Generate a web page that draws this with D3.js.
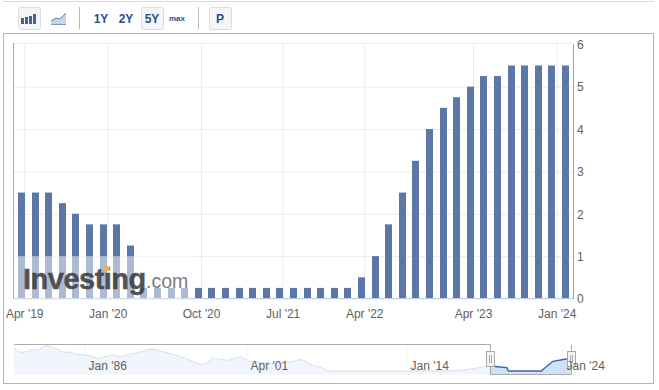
<!DOCTYPE html>
<html>
<head>
<meta charset="utf-8">
<script src="https://cdn.jsdelivr.net/npm/d3@7"></script>
<style>
  body { margin: 0; background: #fff; }
  text { font-family: "Liberation Sans", Arial, sans-serif; }
  .domain { shape-rendering: crispEdges; }
</style>
</head>
<body>
<svg width="659" height="390"></svg>
<script>
// one bar per rate decision
const rates = [
  2.5, 2.5, 2.5, 2.25, 2, 1.75, 1.75, 1.75, 1.25,
  0.25, 0.25, 0.25, 0.25, 0.25, 0.25, 0.25, 0.25, 0.25, 0.25, 0.25, 0.25, 0.25, 0.25, 0.25, 0.25,
  0.5, 1, 1.75, 2.5, 3.25, 4, 4.5, 4.75, 5, 5.25, 5.25, 5.5, 5.5, 5.5, 5.5, 5.5
];
// x labels sit between bars (the axis is ordinal in the original)
const xTickIndex  = [0.2, 6.34, 13.2, 19.2, 25.2, 33.2, 39.35];
const xTickLabels = ["Apr '19", "Jan '20", "Oct '20", "Jul '21", "Apr '22", "Apr '23", "Jan '24"];
const yTicks = [0, 1, 2, 3, 4, 5, 6];
const yMax = 6.03; // the plot runs a hair above the 6 tick

// navigator series, estimated
const navYears = [
  1979.3, 1980, 1981.1, 1981.6, 1982.1, 1982.5, 1983.2, 1984, 1984.6, 1985.1, 1985.7,
  1986.5, 1987.3, 1988, 1988.7, 1989.3, 1990.1, 1990.9, 1992.3, 1993.7, 1995.3, 1996.9,
  1997.3, 1998.1, 1998.6, 1999.4, 2000.6, 2001.5, 2002.55, 2003.35, 2004.4, 2005.6,
  2006.7, 2007.2, 2007.6, 2016.4, 2017.4, 2018.4, 2019.3, 2019.8, 2020.4, 2020.5,
  2022.6, 2022.95, 2023.35, 2024.2, 2024.5
];
const navRates = [
  10.15, 8.26, 9.42, 9.42, 11.02, 11.31, 10.15, 8.26, 8.55, 7.53, 7.53,
  6.8, 5.78, 6.65, 7.24, 6.51, 7.53, 8.11, 10, 8.26, 6.07, 3.01,
  3.45, 5.93, 5.49, 4.91, 6.51, 4.32, 4.03, 3.45, 3.89, 5.34,
  2.14, 2, 0.25, 0.25, 0.5, 1.5, 2.5, 2.14, 1.75, 0.25,
  0.25, 2.25, 4.5, 5.5, 5.5
];
const navTickYears  = [1986, 2001.25, 2014, 2024];
const navTickLabels = ["Jan '86", "Apr '01", "Jan '14", "Jan '24"];
const selection = [2019.3, 2024.5];

const rangeButtons = [
  {label: "1Y", cx: 101, size: 12},
  {label: "2Y", cx: 126, size: 12},
  {label: "5Y", cx: 152, size: 12},
  {label: "max", cx: 177, size: 8}
];

const svg = d3.select("svg");
const BAR_COLOR  = "#5b77a5";
const GRID_COLOR = "#ececec";
const FRAME      = "#b3b3b3";
const TEXT_COLOR = "#606060";
const BLUE_TEXT  = "#2b4f8c";

const plot = {left: 13.5, right: 572.5, top: 43, bottom: 298.5};
const x = d3.scaleLinear().domain([0, rates.length - 1]).range([21.5, 565.5]);
const y = d3.scaleLinear().domain([0, yMax]).range([plot.bottom, plot.top]);

// outer frame and toolbar rule
svg.append("rect")
  .attr("x", 3.5).attr("y", 33.5).attr("width", 650).attr("height", 350)
  .attr("fill", "none").attr("stroke", FRAME);
svg.append("line")
  .attr("x1", 3).attr("x2", 654).attr("y1", 1.5).attr("y2", 1.5)
  .attr("stroke", "#d8d8d8");

drawToolbar();
drawMain();
drawWatermark();
drawNavigator();

function drawToolbar() {
  let bar = svg.append("g");
  // buttons with a pressed look
  [[18.5, 22], [141.5, 22], [209.5, 22]].forEach(b => {
    bar.append("rect")
      .attr("x", b[0]).attr("y", 7.5).attr("width", b[1]).attr("height", 22).attr("rx", 2)
      .attr("fill", "#f5f5f5").attr("stroke", "#dcdcdc");
  });
  [79.5, 198.5].forEach(px => {
    bar.append("line")
      .attr("x1", px).attr("x2", px).attr("y1", 7).attr("y2", 29)
      .attr("stroke", "#b8b8b8");
  });

  // column icon
  [[21, 18, 6], [25, 17, 7], [29, 16, 8], [33, 14, 10]].forEach(b => {
    bar.append("rect")
      .attr("x", b[0]).attr("y", b[1]).attr("width", 3).attr("height", b[2])
      .attr("fill", "#3f6596");
  });
  // line icon
  bar.append("path")
    .attr("d", "M51,21 L56,18 L59,19 L62,17 L66,13 L66,24 L51,24 Z")
    .attr("fill", "#c9d3e3");
  bar.append("path")
    .attr("d", "M51,21 L56,18 L59,19 L62,17 L66,13")
    .attr("fill", "none").attr("stroke", "#5b7fb0");
  bar.append("line")
    .attr("x1", 51).attr("x2", 66).attr("y1", 24.5).attr("y2", 24.5)
    .attr("stroke", "#7f9cc4");

  bar.selectAll("text.range")
    .data(rangeButtons)
    .enter()
    .append("text")
    .attr("class", "range")
    .attr("x", d => d.cx)
    .attr("y", d => d.size == 8 ? 21 : 22.5)
    .attr("text-anchor", "middle")
    .attr("font-size", d => d.size)
    .attr("font-weight", "bold")
    .attr("fill", BLUE_TEXT)
    .text(d => d.label);

  bar.append("text")
    .attr("x", 220).attr("y", 22.5)
    .attr("text-anchor", "middle")
    .attr("font-size", 12).attr("font-weight", "bold")
    .attr("fill", BLUE_TEXT)
    .text("P");
}

function drawMain() {
  // gridlines first, the top one closes the plot
  let gridY = svg.append("g")
    .attr("transform", `translate(${plot.left},0)`)
    .call(d3.axisRight(y).tickValues(yTicks.slice(0, -1).concat(yMax)).tickSize(plot.right - plot.left).tickFormat(""));
  let gridX = svg.append("g")
    .attr("transform", `translate(0,${plot.top})`)
    .call(d3.axisBottom(x).tickValues(xTickIndex).tickSize(plot.bottom - plot.top).tickFormat(""));
  [gridY, gridX].forEach(g => {
    g.select(".domain").remove();
    g.selectAll("line").attr("stroke", GRID_COLOR);
  });

  svg.append("g").selectAll("rect")
    .data(rates)
    .enter()
    .append("rect")
    .attr("x", (d, i) => Math.round(x(i) - 3.5))
    .attr("y", d => y(d))
    .attr("width", 7)
    .attr("height", d => y(0) - y(d))
    .attr("fill", BAR_COLOR);

  // left edge of the plot
  svg.append("line")
    .attr("x1", plot.left).attr("x2", plot.left)
    .attr("y1", plot.top).attr("y2", plot.bottom)
    .attr("stroke", "#a8a8a8");

  let axisY = svg.append("g")
    .attr("transform", `translate(${plot.right},0)`)
    .call(d3.axisRight(y).tickValues(yTicks).tickSize(0).tickPadding(4.5).tickFormat(d3.format("d")));
  axisY.select(".domain").attr("stroke", "#a0a0a0");
  axisY.selectAll("text")
    .attr("font-size", 12)
    .attr("dy", "0.36em")
    .attr("fill", TEXT_COLOR)
    .style("font-family", "'Liberation Sans', Arial, sans-serif");

  let axisX = svg.append("g")
    .attr("transform", `translate(0,${plot.bottom})`)
    .call(d3.axisBottom(x).tickValues(xTickIndex).tickSize(0).tickPadding(11)
      .tickFormat((d, i) => xTickLabels[i]));
  axisX.select(".domain")
    .attr("d", `M${plot.left},0H${plot.right}`)
    .attr("stroke", "#c0cfe0");
  axisX.selectAll("text")
    .attr("font-size", 12)
    .attr("fill", TEXT_COLOR)
    .style("font-family", "'Liberation Sans', Arial, sans-serif");
}

function drawWatermark() {
  let mark = svg.append("g");
  // the logo sits on a half white band that washes out the bars
  mark.append("rect")
    .attr("x", 14).attr("y", y(1)).attr("width", 176).attr("height", y(0) - y(1))
    .attr("fill", "#fff").attr("opacity", 0.5);
  mark.append("text")
    .attr("x", 23).attr("y", 289)
    .attr("font-size", 29).attr("font-weight", "bold")
    .attr("letter-spacing", -0.5)
    .attr("fill", "#3c3c3c").attr("stroke", "#3c3c3c").attr("stroke-width", 0.4)
    .attr("opacity", 0.88)
    .text("Investing");
  mark.append("text")
    .attr("x", 146).attr("y", 288)
    .attr("font-size", 19.5)
    .attr("fill", "#6e6e6e").attr("opacity", 0.9)
    .text(".com");
  mark.append("rect")
    .attr("x", 104.5).attr("y", 266.5).attr("width", 5).attr("height", 4.5)
    .attr("fill", "#f0b050");
}

function drawNavigator() {
  let nav = svg.append("g");
  const top = 344.5, base = 374.5;

  // the original navigator is ordinal too, so years are not evenly spaced
  let nx = d3.scaleLinear().domain(navTickYears).range([85, 247, 407, 563]);
  let ny = d3.scaleLinear().domain([0, 10]).range([371.6, 348.7]);

  let points = navYears.map((d, i) => ({year: d, rate: navRates[i]}));
  let outside = points.filter(d => d.year <= selection[0]);
  let inside  = points.filter(d => d.year >= selection[0]);

  let line = d3.line().x(d => nx(d.year)).y(d => ny(d.rate));
  let area = d3.area().x(d => nx(d.year)).y0(base).y1(d => ny(d.rate));

  // faint gridlines
  nav.selectAll("line.navgrid")
    .data(navTickYears)
    .enter()
    .append("line")
    .attr("class", "navgrid")
    .attr("x1", d => nx(d)).attr("x2", d => nx(d))
    .attr("y1", top).attr("y2", base)
    .attr("stroke", "#f4f4f4");

  nav.append("path").attr("d", area(outside)).attr("fill", "#f1f5fc");
  nav.append("path").attr("d", line(outside))
    .attr("fill", "none").attr("stroke", "#d6e0ef").attr("stroke-width", 1);
  nav.append("path").attr("d", area(inside)).attr("fill", "#cfe0f9");
  nav.append("path").attr("d", line(inside))
    .attr("fill", "none").attr("stroke", "#3c66a6").attr("stroke-width", 1.4);

  // selection outline
  let sx0 = Math.round(nx(selection[0])) + 0.5;
  let sx1 = Math.round(nx(selection[1])) + 0.5;
  nav.append("path")
    .attr("d", `M14,${top}H${sx0}V${base}H${sx1}V${top}`)
    .attr("fill", "none").attr("stroke", "#ababab");

  // drag handles
  [sx0, sx1].forEach(px => {
    nav.append("rect")
      .attr("x", px - 4).attr("y", 351.5).attr("width", 8).attr("height", 15)
      .attr("fill", "#f4f4f4").attr("stroke", "#a8a8a8");
    [-1, 1].forEach(o => {
      nav.append("line")
        .attr("x1", px + o).attr("x2", px + o).attr("y1", 355).attr("y2", 363)
        .attr("stroke", "#a8a8a8");
    });
  });

  // labels go over the handles, Jan '24 overlaps the right one
  let axisNav = nav.append("g")
    .attr("transform", `translate(0,${base - 12})`)
    .call(d3.axisBottom(nx).tickValues(navTickYears).tickSize(0).tickPadding(0)
      .tickFormat((d, i) => navTickLabels[i]));
  axisNav.select(".domain").remove();
  axisNav.selectAll("text")
    .attr("text-anchor", "start")
    .attr("x", 3)
    .attr("y", 0)
    .attr("dy", "0.6em")
    .attr("font-size", 12)
    .attr("fill", TEXT_COLOR)
    .style("font-family", "'Liberation Sans', Arial, sans-serif");
}
</script>
</body>
</html>
